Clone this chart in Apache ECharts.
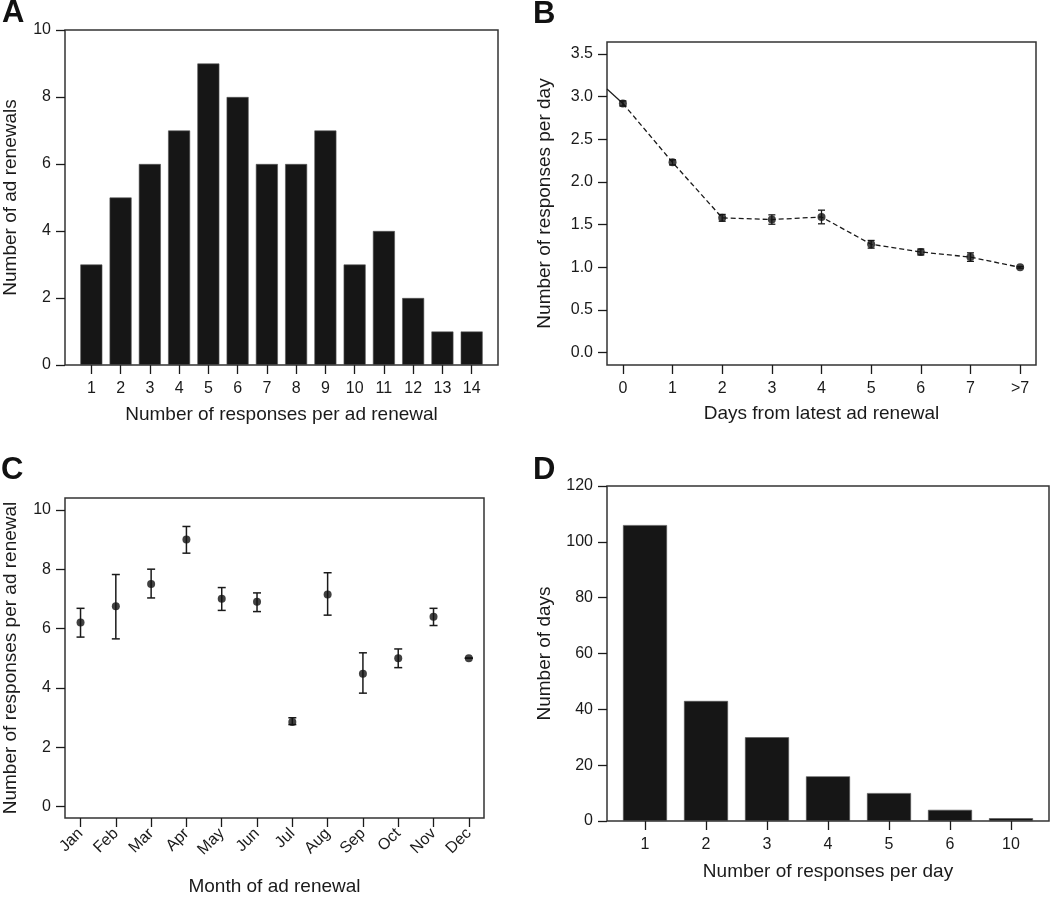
<!DOCTYPE html>
<html>
<head>
<meta charset="utf-8">
<script src="https://cdn.jsdelivr.net/npm/echarts@6/dist/echarts.min.js"></script>
<style>
  html, body { margin: 0; padding: 0; background: #fff; }
  #chart { width: 1050px; height: 897px; }
</style>
</head>
<body>
<div id="chart"></div>
<script>
// A: histogram of responses per ad renewal
var aCats = ['1', '2', '3', '4', '5', '6', '7', '8', '9', '10', '11', '12', '13', '14'];
var aVals = [3, 5, 6, 7, 9, 8, 6, 6, 7, 3, 4, 2, 1, 1];

// B: responses per day vs days since renewal
var bCats = ['0', '1', '2', '3', '4', '5', '6', '7', '>7'];
var bMean = [2.92, 2.23, 1.58, 1.56, 1.59, 1.27, 1.18, 1.12, 1.0];
var bErr = [0.03, 0.03, 0.04, 0.055, 0.08, 0.045, 0.035, 0.05, 0.01];
var bLeadIn = 3.09; // value of the solid line at the left edge
var bTicks = [0, 0.5, 1, 1.5, 2, 2.5, 3, 3.5];

// C: responses per renewal by month
var cCats = ['Jan', 'Feb', 'Mar', 'Apr', 'May', 'Jun', 'Jul', 'Aug', 'Sep', 'Oct', 'Nov', 'Dec'];
var cMean = [6.2, 6.75, 7.5, 9.0, 7.0, 6.9, 2.85, 7.15, 4.47, 5.0, 6.4, 5.0];
var cLow = [5.71, 5.65, 7.03, 8.54, 6.61, 6.57, 2.76, 6.45, 3.82, 4.68, 6.1, 5.0];
var cHigh = [6.68, 7.82, 8.0, 9.44, 7.38, 7.2, 2.99, 7.88, 5.18, 5.31, 6.68, 5.0];
var cTicks = [0, 2, 4, 6, 8, 10];

// D: histogram of responses per day
var dCats = ['1', '2', '3', '4', '5', '6', '10'];
var dVals = [106, 43, 30, 16, 10, 4, 1];

(function () {
  var ink = '#1a1a1a';
  var fam = 'Liberation Sans, Arial, sans-serif';
  var tickFont = 16;
  var titleFont = 19;

  function idx(arr) { return arr.map(function (_, i) { return i; }); }

  function xAxis(grid, min, max, ticks, labels, extra) {
    var ax = {
      type: 'value', gridIndex: grid, min: min, max: max,
      splitLine: { show: false },
      axisLine: { show: false, onZero: false },
      axisTick: { show: true, length: 9, customValues: ticks, lineStyle: { color: ink, width: 1.3 } },
      axisLabel: {
        customValues: ticks, color: ink, fontSize: tickFont, fontFamily: fam, margin: 16,
        formatter: function (v) { return labels[Math.round(v - ticks[0])]; }
      },
      nameLocation: 'middle', nameTextStyle: { color: ink, fontSize: titleFont, fontFamily: fam }
    };
    for (var k in extra) ax[k] = extra[k];
    return ax;
  }

  function yAxis(grid, min, max, ticks, fmt, name, gap) {
    return {
      type: 'value', gridIndex: grid, min: min, max: max,
      splitLine: { show: false },
      axisLine: { show: false, onZero: false },
      axisTick: { show: true, length: 9, customValues: ticks, lineStyle: { color: ink, width: 1.3 } },
      axisLabel: { customValues: ticks, color: ink, fontSize: tickFont, fontFamily: fam, margin: 14, formatter: fmt },
      name: name, nameLocation: 'middle', nameGap: gap,
      nameTextStyle: { color: ink, fontSize: titleFont, fontFamily: fam }
    };
  }

  function errorBars(xi, yi, data, cap, width) {
    return {
      type: 'custom', xAxisIndex: xi, yAxisIndex: yi, data: data, z: 3,
      renderItem: function (params, api) {
        var x = api.value(0);
        var lo = api.coord([x, api.value(1)]);
        var hi = api.coord([x, api.value(2)]);
        var st = { stroke: ink, lineWidth: width };
        return {
          type: 'group', children: [
            { type: 'line', shape: { x1: lo[0], y1: lo[1], x2: hi[0], y2: hi[1] }, style: st },
            { type: 'line', shape: { x1: lo[0] - cap, y1: lo[1], x2: lo[0] + cap, y2: lo[1] }, style: st },
            { type: 'line', shape: { x1: hi[0] - cap, y1: hi[1], x2: hi[0] + cap, y2: hi[1] }, style: st }
          ]
        };
      }
    };
  }

  var bMin = -0.32;
  var bData = bMean.map(function (v, i) { return [i, v]; });
  var bErrData = bMean.map(function (v, i) { return [i, v - bErr[i], v + bErr[i]]; });
  var cData = cMean.map(function (v, i) { return [i, v]; });
  var cErrData = cMean.map(function (v, i) { return [i, cLow[i], cHigh[i]]; });
  var aData = aVals.map(function (v, i) { return [i + 1, v]; });
  var dData = dVals.map(function (v, i) { return [i + 1, v]; });

  var box = { show: true, borderColor: '#333', borderWidth: 1.5, backgroundColor: 'transparent' };
  function grid(l, t, w, h) {
    return Object.assign({ left: l, top: t, width: w, height: h }, box);
  }

  var letter = function (txt, x, y) {
    return { type: 'text', left: x, top: y, style: { text: txt, font: 'bold 31px ' + fam, fill: '#111' } };
  };

  var option = {
    animation: false,
    backgroundColor: '#fff',
    graphic: [letter('A', 2, -2), letter('B', 533, -1), letter('C', 1, 455), letter('D', 533, 455)],
    grid: [
      grid(61, 30, 437, 335),
      grid(607, 42, 429, 323),
      grid(61, 498, 423, 323),
      grid(607, 486, 442, 335)
    ],
    xAxis: [
      xAxis(0, 0.1, 14.9, idx(aCats).map(function (i) { return i + 1; }), aCats,
        { name: 'Number of responses per ad renewal', nameGap: 40 }),
      xAxis(1, bMin, 8.32, idx(bCats), bCats,
        { name: 'Days from latest ad renewal', nameGap: 39 }),
      xAxis(2, -0.44, 11.43, idx(cCats), cCats,
        { name: 'Month of ad renewal', nameGap: 59 }),
      xAxis(3, 0.377, 7.623, idx(dCats).map(function (i) { return i + 1; }), dCats,
        { name: 'Number of responses per day', nameGap: 41 })
    ],
    yAxis: [
      yAxis(0, 0, 10, [0, 2, 4, 6, 8, 10], null, 'Number of ad renewals', 45),
      yAxis(1, -0.144, 3.64, bTicks, function (v) { return v.toFixed(1); }, 'Number of responses per day', 53),
      yAxis(2, -0.39, 10.4, cTicks, null, 'Number of responses per ad renewal', 45),
      yAxis(3, 0, 120, [0, 20, 40, 60, 80, 100, 120], null, 'Number of days', 53)
    ],
    series: [
      {
        type: 'bar', xAxisIndex: 0, yAxisIndex: 0, data: aData, barWidth: 22,
        itemStyle: { color: '#161616', borderColor: '#555', borderWidth: 0.6 }
      },
      {
        type: 'line', xAxisIndex: 1, yAxisIndex: 1, data: [[bMin, bLeadIn], bData[0]],
        symbol: 'none', lineStyle: { color: ink, width: 1.2 }, z: 2
      },
      {
        type: 'line', xAxisIndex: 1, yAxisIndex: 1, data: bData,
        symbol: 'none', lineStyle: { color: ink, width: 1.3, type: [5, 3] }, z: 2
      },
      errorBars(1, 1, bErrData, 3.5, 1.3),
      {
        type: 'scatter', xAxisIndex: 1, yAxisIndex: 1, data: bData,
        symbol: 'circle', symbolSize: 8, itemStyle: { color: '#111' }, z: 4
      },
      errorBars(2, 2, cErrData, 4, 1.5),
      {
        type: 'scatter', xAxisIndex: 2, yAxisIndex: 2, data: cData,
        symbol: 'circle', symbolSize: 8, itemStyle: { color: '#111' }, z: 4
      },
      {
        type: 'bar', xAxisIndex: 3, yAxisIndex: 3, data: dData, barWidth: 44,
        itemStyle: { color: '#161616', borderColor: '#555', borderWidth: 0.6 }
      }
    ]
  };

  // month labels are tilted
  option.xAxis[2].axisLabel.rotate = 45;
  option.xAxis[2].axisLabel.margin = 13;

  var myChart = echarts.init(document.getElementById('chart'), null, { renderer: 'canvas' });
  myChart.setOption(option);
})();
</script>
</body>
</html>
